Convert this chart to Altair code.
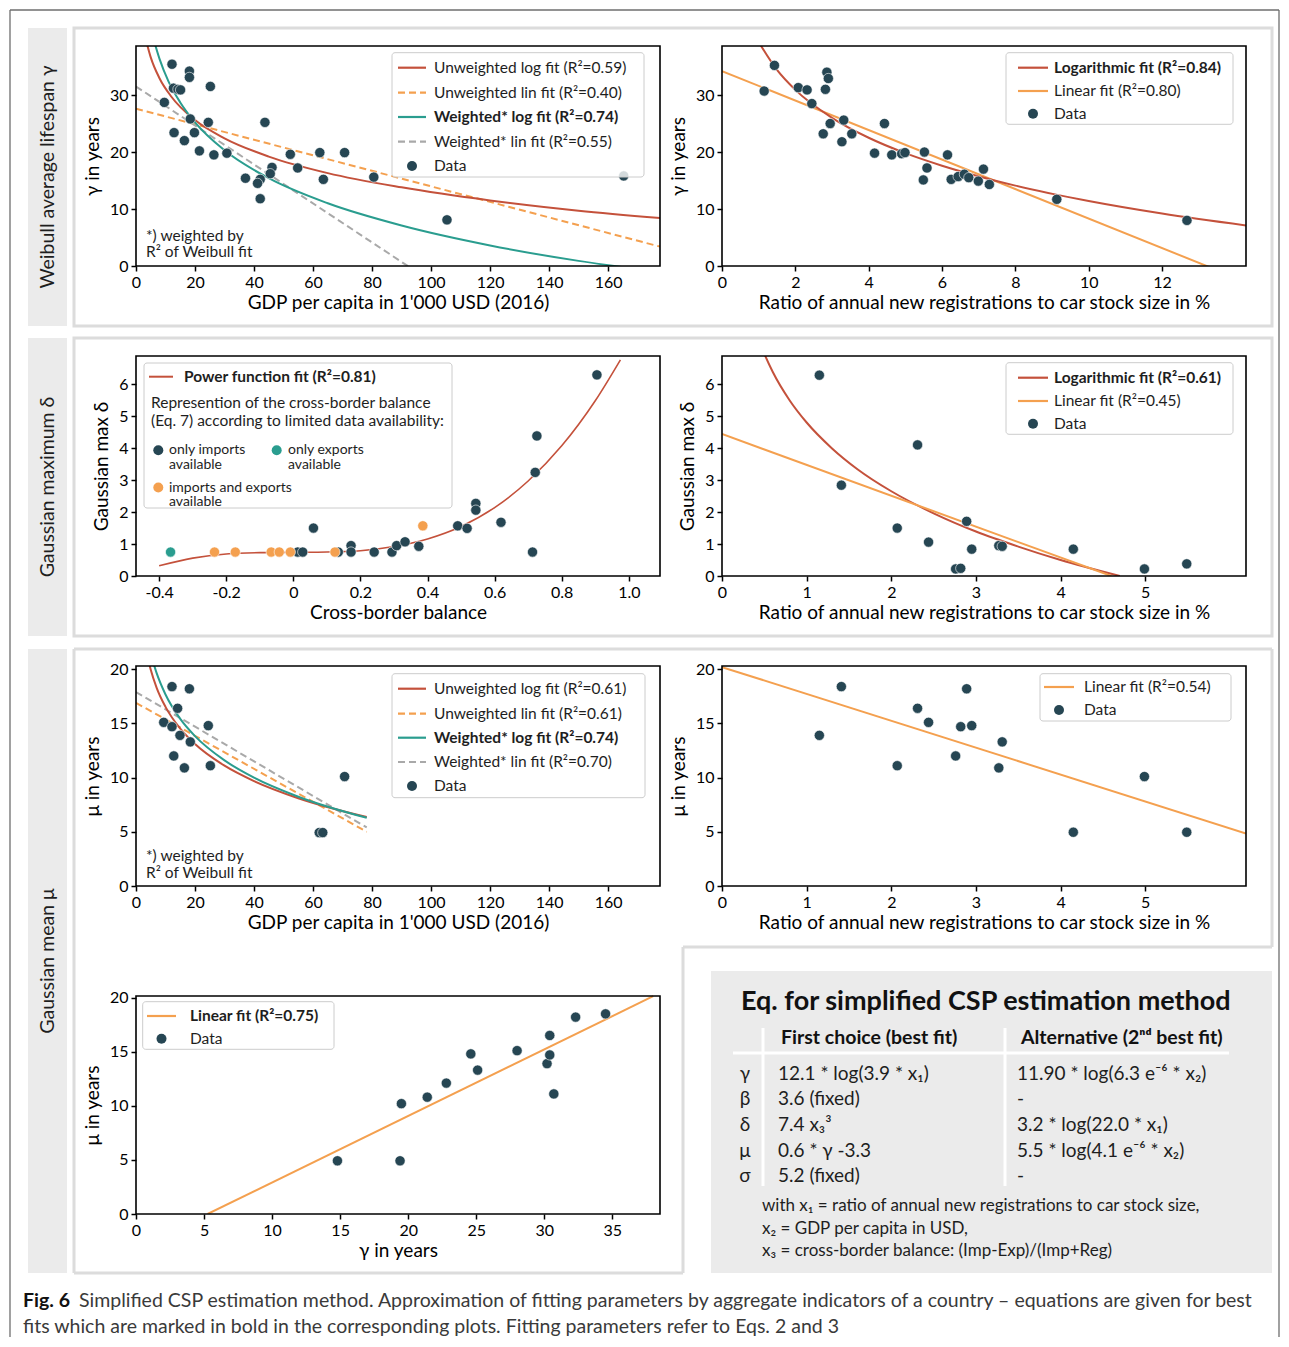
import altair as alt
import pandas as pd

FONT = "Lato"
TXT = "#1e1e1e"
CAP = "#3a3a3a"
DARK = "#264653"
TEAL = "#2a9d8f"
ORANGE = "#f4a04f"
RED = "#c4513b"
GRAY = "#a9a9a9"
FRAME = "#dcdcdc"
STRIP = "#ebebeb"
DASH = [7, 4]
W, H = 524, 220
LEG = 15.5

# ---------------- data ----------------
# Panel 1: Weibull gamma vs GDP per capita
p1_gdp = [12.2, 18.1, 18.1, 25.2, 12.7, 14.2, 15.1, 9.6, 18.4, 24.5, 43.7, 12.9, 19.8, 16.4, 21.5, 26.4,
          30.8, 52.3, 62.3, 70.7, 54.8, 46.1, 45.5, 37.1, 42.1, 41.2, 63.5, 80.6, 42.1, 105.4, 165.3]
p1_gamma = [35.4, 34.2, 33.1, 31.5, 31.2, 31.0, 30.9, 28.7, 25.8, 25.2, 25.2, 23.4, 23.4, 22.0, 20.2, 19.5,
            19.8, 19.6, 19.9, 19.9, 17.2, 17.3, 16.2, 15.4, 15.2, 14.5, 15.2, 15.6, 11.8, 8.1, 15.8]
p1_ulog_x = [3.4, 5, 8, 12, 20, 30, 45, 65, 90, 120, 150, 178]
p1_ulog_y = [39.6, 36.6, 32.9, 29.7, 25.6, 22.4, 19.2, 16.3, 13.8, 11.5, 9.7, 8.4]
p1_wlog_x = [6, 8, 11, 15, 20, 30, 45, 65, 90, 120, 150, 165]
p1_wlog_y = [39.7, 36.3, 32.4, 28.7, 25.2, 20.3, 15.4, 11.0, 7.1, 3.6, 0.9, -0.2]
p1_ulin_x = [0, 177.6]
p1_ulin_y = [27.6, 3.4]
p1_wlin_x = [0, 100]
p1_wlin_y = [31.5, -2.7]

# Panel 2: gamma vs ratio of new registrations
p2_ratio = [1.15, 1.43, 2.08, 2.32, 2.45, 2.86, 2.90, 2.82, 2.95, 2.76, 3.32, 3.27, 3.54, 4.43, 4.16, 4.63,
            4.90, 4.99, 5.52, 5.59, 5.49, 6.15, 6.25, 6.44, 6.61, 6.73, 6.99, 7.13, 7.29, 9.13, 12.68]
p2_gamma = [30.7, 35.2, 31.3, 30.9, 28.5, 34.0, 32.9, 31.0, 25.0, 23.2, 25.6, 21.8, 23.2, 25.0, 19.8, 19.5,
            19.7, 19.9, 20.0, 17.2, 15.1, 19.5, 15.2, 15.7, 16.1, 15.5, 14.9, 17.0, 14.3, 11.7, 8.0]
p2_log_x = [1.0, 1.5, 2, 3, 4, 5, 6, 8, 10, 12, 14.3]
p2_log_y = [39.3, 34.4, 30.9, 26.0, 22.5, 19.8, 17.6, 14.1, 11.4, 9.2, 7.1]
p2_lin_x = [0, 14.3]
p2_lin_y = [34.2, -2.8]

# Panel 3: delta vs cross-border balance
p3_imp_x = [0.013, 0.028, 0.060, 0.134, 0.172, 0.172, 0.241, 0.294, 0.308, 0.333, 0.374, 0.490, 0.518,
            0.544, 0.544, 0.619, 0.713, 0.721, 0.726, 0.905]
p3_imp_y = [0.75, 0.75, 1.50, 0.75, 0.95, 0.75, 0.75, 0.75, 0.95, 1.07, 0.93, 1.57, 1.49,
            2.27, 2.06, 1.68, 0.75, 3.24, 4.38, 6.29]
p3_exp_x = [-0.366]
p3_exp_y = [0.75]
p3_both_x = [-0.235, -0.173, -0.066, -0.042, -0.009, 0.124, 0.386]
p3_both_y = [0.75, 0.75, 0.75, 0.75, 0.75, 0.75, 1.57]
p3_pow_x = [-0.4, -0.3, -0.2, -0.1, 0, 0.1, 0.2, 0.3, 0.4, 0.5, 0.6, 0.7, 0.8, 0.9, 0.975]
p3_pow_y = [0.32, 0.56, 0.69, 0.73, 0.74, 0.75, 0.79, 0.92, 1.16, 1.55, 2.14, 2.97, 4.07, 5.48, 6.76]

# Panel 4: delta vs ratio
p4_ratio = [1.15, 1.41, 2.31, 2.07, 2.44, 2.89, 2.95, 2.76, 2.82, 3.27, 3.31, 4.15, 4.99, 5.49]
p4_delta = [6.28, 2.84, 4.10, 1.50, 1.06, 1.71, 0.84, 0.22, 0.24, 0.95, 0.93, 0.84, 0.22, 0.38]
p4_log_x = [0.45, 0.5, 0.6, 0.8, 1.0, 1.3, 1.6, 2.0, 2.5, 3.0, 3.5, 4.0, 4.7]
p4_log_y = [7.28, 6.95, 6.38, 5.49, 4.80, 3.99, 3.34, 2.65, 1.96, 1.39, 0.92, 0.50, 0.0]
p4_lin_x = [0, 4.6]
p4_lin_y = [4.44, 0.0]

# Panel 5: mu vs GDP
p5_gdp = [12.2, 18.1, 14.1, 9.4, 12.2, 24.5, 14.9, 18.4, 12.8, 25.2, 16.4, 70.7, 62.1, 63.3]
p5_mu = [18.4, 18.2, 16.4, 15.1, 14.7, 14.8, 13.9, 13.3, 12.0, 11.1, 10.9, 10.1, 4.93, 4.93]
p5_ulog_x = [4.3, 5, 7, 10, 15, 20, 30, 40, 55, 78.2]
p5_ulog_y = [20.7, 19.95, 18.29, 16.53, 14.52, 13.10, 11.10, 9.68, 8.10, 6.36]
p5_wlog_x = [6, 7, 10, 15, 20, 30, 40, 55, 78.2]
p5_wlog_y = [20.49, 19.64, 17.67, 15.42, 13.83, 11.59, 10.00, 8.24, 6.29]
p5_ulin_x = [0, 78.2]
p5_ulin_y = [16.9, 5.0]
p5_wlin_x = [0, 78.2]
p5_wlin_y = [17.9, 5.4]

# Panel 6: mu vs ratio
p6_ratio = [1.15, 1.41, 2.07, 2.31, 2.44, 2.76, 2.82, 2.89, 2.95, 3.27, 3.31, 4.15, 4.99, 5.49]
p6_mu = [13.9, 18.4, 11.1, 16.4, 15.1, 12.0, 14.7, 18.2, 14.8, 10.9, 13.3, 4.96, 10.1, 4.96]
p6_lin_x = [0, 6.19]
p6_lin_y = [20.2, 4.85]

# Panel 7: mu vs gamma
p7_gamma = [14.8, 19.4, 19.5, 21.4, 22.8, 24.6, 25.1, 28.0, 30.2, 30.4, 30.4, 30.7, 32.3, 34.5]
p7_mu = [4.92, 4.92, 10.2, 10.8, 12.1, 14.8, 13.3, 15.1, 13.9, 16.5, 14.7, 11.1, 18.2, 18.5]
p7_lin_x = [5.26, 38.0]
p7_lin_y = [0.0, 20.13]

# Text content
ROW_LABELS = ["Weibull average lifespan γ", "Gaussian maximum δ", "Gaussian mean μ"]
GDP_TITLE = "GDP per capita in 1'000 USD (2016)"
RATIO_TITLE = "Ratio of annual new registrations to car stock size in %"
TABLE_TITLE = "Eq. for simplified CSP estimation method"
TABLE_HEAD = ["First choice (best fit)", "Alternative (2ⁿᵈ best fit)"]
TABLE_PARAMS = ["γ", "β", "δ", "μ", "σ"]
TABLE_FIRST = ["12.1 * log(3.9 * x₁)", "3.6 (fixed)", "7.4 x₃³", "0.6 * γ -3.3", "5.2 (fixed)"]
TABLE_ALT = ["11.90 * log(6.3 e⁻⁶ * x₂)", "-", "3.2 * log(22.0 * x₁)", "5.5 * log(4.1 e⁻⁶ * x₂)", "-"]
TABLE_NOTES = ["with x₁ = ratio of annual new registrations to car stock size,",
               "x₂ = GDP per capita in USD,",
               "x₃ = cross-border balance: (Imp-Exp)/(Imp+Reg)"]
CAP_BOLD = "Fig. 6"
CAP_LINE1 = ("Simplified CSP estimation method. Approximation of fitting parameters by aggregate "
             "indicators of a country – equations are given for best")
CAP_LINE2 = ("fits which are marked in bold in the corresponding plots. Fitting parameters refer "
             "to Eqs. 2 and 3")

ONE = alt.Data(values=[{"k": 0}])


class Deco:
    """Decoration helper working in page coordinates relative to a panel origin."""

    def __init__(self, ox, oy):
        self.ox, self.oy = ox, oy

    def hline(self, x1, x2, y, color, width=2.0, dash=None):
        kw = dict(color=color, strokeWidth=width)
        if dash:
            kw["strokeDash"] = dash
        return alt.Chart(ONE).mark_rule(**kw).encode(
            x=alt.value(x1 - self.ox), x2=alt.value(x2 - self.ox), y=alt.value(y - self.oy))

    def vline(self, x, y1, y2, color, width=2.0):
        return alt.Chart(ONE).mark_rule(color=color, strokeWidth=width).encode(
            x=alt.value(x - self.ox), y=alt.value(y1 - self.oy), y2=alt.value(y2 - self.oy))

    def rect(self, x1, x2, y1, y2, fill, fill_opacity=1.0, stroke=None, stroke_width=0.0, radius=0):
        kw = dict(fill=fill, fillOpacity=fill_opacity, cornerRadius=radius, strokeWidth=stroke_width)
        if stroke:
            kw["stroke"] = stroke
        return alt.Chart(ONE).mark_rect(**kw).encode(
            x=alt.value(x1 - self.ox), x2=alt.value(x2 - self.ox),
            y=alt.value(y1 - self.oy), y2=alt.value(y2 - self.oy))

    def text(self, x, y, s, size=LEG, bold=False, color=TXT, align="left", angle=0, line_height=None):
        kw = dict(font=FONT, fontSize=size, fontWeight="bold" if bold else "normal", color=color,
                  align=align, baseline="middle")
        if angle:
            kw["angle"] = angle
        if line_height:
            kw["lineHeight"] = line_height
        return alt.Chart(ONE).mark_text(**kw).encode(
            x=alt.value(x - self.ox), y=alt.value(y - self.oy), text=alt.value(s))

    def dot(self, x, y, color, size=100):
        return alt.Chart(ONE).mark_circle(color=color, size=size, opacity=1).encode(
            x=alt.value(x - self.ox), y=alt.value(y - self.oy))


def legend(d, box, rows, line_x, text_x, entries, size=LEG):
    x1, x2, y1, y2 = box
    out = [d.rect(x1, x2, y1, y2, "white", 0.8, "#cccccc", 1.0, 3)]
    for (kind, color, dash, label, bold), y in zip(entries, rows):
        if kind == "line":
            out.append(d.hline(line_x[0], line_x[1], y, color, 2.2, dash))
        else:
            out.append(d.dot((line_x[0] + line_x[1]) / 2, y, color))
        out.append(d.text(text_x, y, label, size, bold))
    return out


def xenc(domain, title, values, label_expr=None):
    ax = dict(title=title, values=values)
    if label_expr:
        ax["labelExpr"] = label_expr
    return alt.X("x:Q", scale=alt.Scale(domain=domain, nice=False, zero=False), axis=alt.Axis(**ax))


def yenc(domain, title, values, rng=None):
    sc = dict(domain=domain, nice=False, zero=False)
    if rng:
        sc["range"] = rng
    return alt.Y("y:Q", scale=alt.Scale(**sc), axis=alt.Axis(title=title, values=values))


def curve(xs, ys, color, X, Y, dash=None, width=2.0):
    df = pd.DataFrame({"x": xs, "y": ys})
    kw = dict(color=color, strokeWidth=width, clip=True, interpolate="monotone")
    if dash:
        kw["strokeDash"] = dash
    return alt.Chart(df).mark_line(**kw).encode(x=X, y=Y)


def scatter(xs, ys, color, X, Y):
    df = pd.DataFrame({"x": xs, "y": ys})
    return alt.Chart(df).mark_circle(color=color, size=105, opacity=1, stroke="white",
                                     strokeWidth=0.6).encode(x=X, y=Y)


def plot_box(d, x1, x2, y1, y2):
    return d.rect(x1, x2, y1, y2, "white", 0.0, "black", 1.6)


# ---------------- Panel 1 ----------------
d1 = Deco(135, 45)
X1 = xenc([0, 177.6], GDP_TITLE, list(range(0, 161, 20)))
Y1 = yenc([0, 38.6], "γ in years", [0, 10, 20, 30])
p1 = alt.layer(
    d1.vline(9, 9, 1336, "#6e6e6e", 1.3),
    d1.hline(9, 1278, 9, "#6e6e6e", 1.3),
    d1.vline(1278, 9, 1336, "#6e6e6e", 1.3),
    d1.rect(73, 1271, 27, 325, "white", 0.0, FRAME, 3),
    d1.rect(27, 66, 27, 325, STRIP),
    d1.text(46.5, 176, ROW_LABELS[0], 19.5, color=TXT, align="center", angle=270),
    d1.text(22, 1300, CAP_BOLD, 19.5, bold=True, color="#111111"),
    d1.text(78, 1300, CAP_LINE1, 19.5, color=CAP),
    d1.text(22, 1326, CAP_LINE2, 19.5, color=CAP),
    curve(p1_ulin_x, p1_ulin_y, ORANGE, X1, Y1, DASH),
    curve(p1_wlin_x, p1_wlin_y, GRAY, X1, Y1, DASH),
    curve(p1_ulog_x, p1_ulog_y, RED, X1, Y1),
    curve(p1_wlog_x, p1_wlog_y, TEAL, X1, Y1),
    scatter(p1_gdp, p1_gamma, DARK, X1, Y1),
    *legend(d1, (391, 643, 51.7, 176), [66.7, 91.7, 116, 140.7, 165], (397, 425), 433, [
        ("line", RED, None, "Unweighted log fit (R²=0.59)", False),
        ("line", ORANGE, DASH, "Unweighted lin fit (R²=0.40)", False),
        ("line", TEAL, None, "Weighted* log fit (R²=0.74)", True),
        ("line", GRAY, DASH, "Weighted* lin fit (R²=0.55)", False),
        ("dot", DARK, None, "Data", False)]),
    d1.text(145, 235, "*) weighted by"),
    d1.text(145, 251, "R² of Weibull fit"),
    plot_box(d1, 135, 659, 45, 265),
).properties(width=W, height=H)

# ---------------- Panel 2 ----------------
d2 = Deco(721, 45)
X2 = xenc([0, 14.29], RATIO_TITLE, list(range(0, 13, 2)))
Y2 = yenc([0, 38.6], "γ in years", [0, 10, 20, 30])
p2 = alt.layer(
    curve(p2_lin_x, p2_lin_y, ORANGE, X2, Y2),
    curve(p2_log_x, p2_log_y, RED, X2, Y2),
    scatter(p2_ratio, p2_gamma, DARK, X2, Y2),
    *legend(d2, (1005, 1232, 51.7, 123.3), [66.7, 90, 112.7], (1017, 1047), 1053, [
        ("line", RED, None, "Logarithmic fit (R²=0.84)", True),
        ("line", ORANGE, None, "Linear fit (R²=0.80)", False),
        ("dot", DARK, None, "Data", False)]),
    plot_box(d2, 721, 1245, 45, 265),
).properties(width=W, height=H)

# ---------------- Panel 3 ----------------
d3 = Deco(135, 355)
X3 = xenc([-0.469, 1.093], "Cross-border balance", [-0.4, -0.2, 0, 0.2, 0.4, 0.6, 0.8, 1.0],
          "datum.value == 1 ? '1.0' : toString(datum.value)")
Y3 = yenc([0, 6.88], "Gaussian max δ", [0, 1, 2, 3, 4, 5, 6])
p3 = alt.layer(
    d3.rect(73, 1271, 337, 635, "white", 0.0, FRAME, 3),
    d3.rect(27, 66, 337, 635, STRIP),
    d3.text(46.5, 486, ROW_LABELS[1], 19.5, color=TXT, align="center", angle=270),
    curve(p3_pow_x, p3_pow_y, RED, X3, Y3, width=1.6),
    scatter(p3_imp_x, p3_imp_y, DARK, X3, Y3),
    scatter(p3_exp_x, p3_exp_y, TEAL, X3, Y3),
    scatter(p3_both_x, p3_both_y, ORANGE, X3, Y3),
    d3.rect(143, 451, 362, 507, "white", 0.8, "#cccccc", 1.0, 3),
    d3.hline(148, 172, 375.7, RED, 2.0),
    d3.text(183, 375.7, "Power function fit (R²=0.81)", LEG, bold=True),
    d3.text(150, 401.7, "Represention of the cross-border balance", LEG),
    d3.text(150, 420, "(Eq. 7) according to limited data availability:", LEG),
    d3.dot(157.3, 449.3, DARK),
    d3.text(168, 449.3, ["only imports", "available"], 14, line_height=14.5),
    d3.dot(275.7, 449.3, TEAL),
    d3.text(287, 449.3, ["only exports", "available"], 14, line_height=14.5),
    d3.dot(157.3, 486.5, ORANGE),
    d3.text(168, 486.5, ["imports and exports", "available"], 14, line_height=14.5),
    plot_box(d3, 135, 659, 355, 575),
).properties(width=W, height=H)

# ---------------- Panel 4 ----------------
d4 = Deco(721, 355)
X4 = xenc([0, 6.19], RATIO_TITLE, [0, 1, 2, 3, 4, 5])
Y4 = yenc([0, 6.88], "Gaussian max δ", [0, 1, 2, 3, 4, 5, 6])
p4 = alt.layer(
    curve(p4_log_x, p4_log_y, RED, X4, Y4),
    curve(p4_lin_x, p4_lin_y, ORANGE, X4, Y4),
    scatter(p4_ratio, p4_delta, DARK, X4, Y4),
    *legend(d4, (1005, 1232, 361.7, 433.3), [376.7, 400, 422.7], (1017, 1047), 1053, [
        ("line", RED, None, "Logarithmic fit (R²=0.61)", True),
        ("line", ORANGE, None, "Linear fit (R²=0.45)", False),
        ("dot", DARK, None, "Data", False)]),
    plot_box(d4, 721, 1245, 355, 575),
).properties(width=W, height=H)

# ---------------- Panel 5 ----------------
d5 = Deco(135, 665)
X5 = xenc([0, 177.6], GDP_TITLE, list(range(0, 161, 20)))
Y5 = yenc([0, 20.3], "μ in years", [0, 5, 10, 15, 20])
p5 = alt.layer(
    d5.hline(73, 1271, 648, FRAME, 3),
    d5.vline(1271, 648, 946, FRAME, 3),
    d5.hline(682, 1271, 946, FRAME, 3),
    d5.vline(682, 946, 1272, FRAME, 3),
    d5.hline(73, 682, 1272, FRAME, 3),
    d5.vline(73, 648, 1272, FRAME, 3),
    d5.rect(27, 66, 648, 1272, STRIP),
    d5.text(46.5, 960, ROW_LABELS[2], 19.5, color=TXT, align="center", angle=270),
    curve(p5_ulin_x, p5_ulin_y, ORANGE, X5, Y5, DASH),
    curve(p5_wlin_x, p5_wlin_y, GRAY, X5, Y5, DASH),
    curve(p5_ulog_x, p5_ulog_y, RED, X5, Y5),
    curve(p5_wlog_x, p5_wlog_y, TEAL, X5, Y5),
    scatter(p5_gdp, p5_mu, DARK, X5, Y5),
    *legend(d5, (391, 644, 672.7, 796.7), [687.7, 712.7, 736.7, 761, 785], (397, 425), 433, [
        ("line", RED, None, "Unweighted log fit (R²=0.61)", False),
        ("line", ORANGE, DASH, "Unweighted lin fit (R²=0.61)", False),
        ("line", TEAL, None, "Weighted* log fit (R²=0.74)", True),
        ("line", GRAY, DASH, "Weighted* lin fit (R²=0.70)", False),
        ("dot", DARK, None, "Data", False)]),
    d5.text(145, 855, "*) weighted by"),
    d5.text(145, 871.7, "R² of Weibull fit"),
    plot_box(d5, 135, 659, 665, 885),
).properties(width=W, height=H)

# ---------------- Panel 6 ----------------
d6 = Deco(721, 665)
X6 = xenc([0, 6.19], RATIO_TITLE, [0, 1, 2, 3, 4, 5])
Y6 = yenc([0, 20.3], "μ in years", [0, 5, 10, 15, 20])
p6 = alt.layer(
    curve(p6_lin_x, p6_lin_y, ORANGE, X6, Y6),
    scatter(p6_ratio, p6_mu, DARK, X6, Y6),
    *legend(d6, (1039, 1230, 672.7, 720), [686, 709], (1043, 1073), 1083, [
        ("line", ORANGE, None, "Linear fit (R²=0.54)", False),
        ("dot", DARK, None, "Data", False)]),
    plot_box(d6, 721, 1245, 665, 885),
).properties(width=W, height=H)

# ---------------- Panel 7 ----------------
H7 = 238
d7 = Deco(135, 975)
X7 = xenc([0, 38.5], "γ in years", [0, 5, 10, 15, 20, 25, 30, 35])
Y7 = yenc([0, 20.15], "μ in years", [0, 5, 10, 15, 20], rng=[H7, H7 - 218])
p7 = alt.layer(
    curve(p7_lin_x, p7_lin_y, ORANGE, X7, Y7),
    scatter(p7_gamma, p7_mu, DARK, X7, Y7),
    *legend(d7, (141.7, 333, 1000.7, 1048.3), [1015, 1037.7], (146, 175), 189, [
        ("line", ORANGE, None, "Linear fit (R²=0.75)", True),
        ("dot", DARK, None, "Data", False)]),
    plot_box(d7, 135, 659, 995, 1213),
).properties(width=W, height=H7)

# ---------------- Equation table ----------------
dt = Deco(721, 975)
row_y = [1073, 1098, 1124, 1150, 1175]
table_layers = [
    dt.rect(710, 1271, 970, 1272, STRIP),
    dt.text(740, 1001, TABLE_TITLE, 27, bold=True, color="#111111"),
    dt.text(780, 1037, TABLE_HEAD[0], 19.5, bold=True, color="#111111"),
    dt.text(1020, 1037, TABLE_HEAD[1], 19.5, bold=True, color="#111111"),
    dt.hline(732, 1228, 1052, "white", 3),
    dt.vline(762, 1027, 1185, "white", 3),
    dt.vline(1004, 1027, 1185, "white", 3),
]
for i, y in enumerate(row_y):
    table_layers.append(dt.text(744, y, TABLE_PARAMS[i], 19, align="center"))
    table_layers.append(dt.text(777, y, TABLE_FIRST[i], 19))
    table_layers.append(dt.text(1016, y, TABLE_ALT[i], 19))
for i, y in enumerate([1205, 1228, 1250]):
    table_layers.append(dt.text(761, y, TABLE_NOTES[i], 17))
tbl = alt.layer(*table_layers).properties(width=W, height=H7)

chart = alt.concat(p1, p2, p3, p4, p5, p6, p7, tbl, columns=2,
                   spacing={"row": 90, "column": 62}, bounds="flush")
chart = chart.properties(padding=0, background="white").configure_view(
    stroke="transparent"
).configure_axis(
    grid=False, domain=False, ticks=True, tickColor="black", tickSize=5, tickWidth=1.5,
    labelFont=FONT, labelFontSize=16, labelColor="black", labelPadding=3,
    labelFlush=False, labelOverlap=False,
    titleFont=FONT, titleFontSize=19, titleFontWeight="normal", titleColor="black",
).configure_axisX(titlePadding=3).configure_axisY(titlePadding=7)

chart.save("out.html", embed_options={"renderer": "svg", "actions": False})
